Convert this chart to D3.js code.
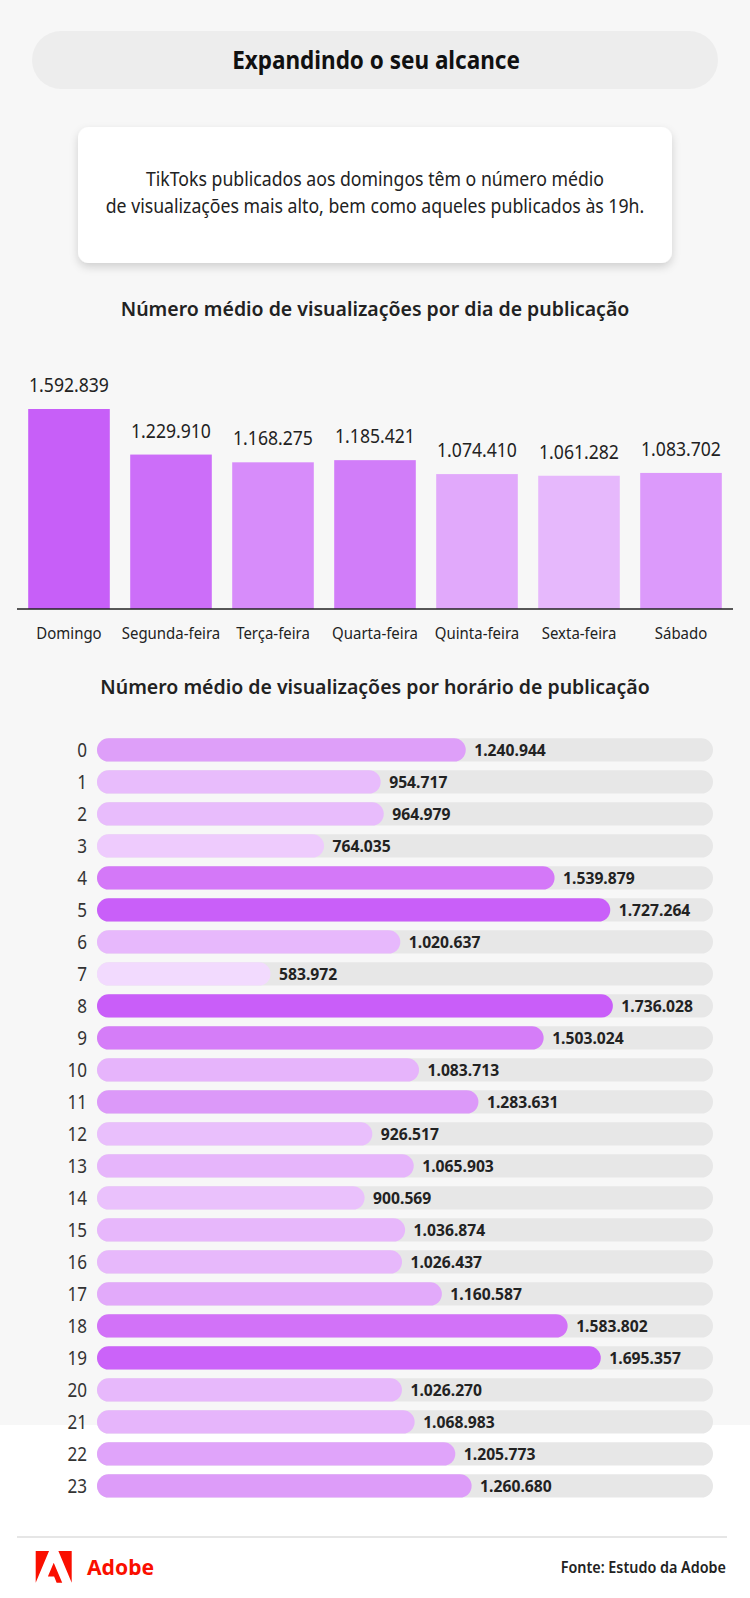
<!DOCTYPE html>
<html>
<head>
<meta charset="utf-8">
<script src="https://cdn.jsdelivr.net/npm/d3@7"></script>
<style>
  html, body { margin: 0; padding: 0; background: #ffffff; }
  svg { display: block; }
  text { font-family: "Noto Sans", "Open Sans", sans-serif; }
</style>
</head>
<body>
<svg id="chart" width="750" height="1598"></svg>
<script>
// ---------- DATA ----------
const title = "Expandindo o seu alcance";
const subtitleLines = [
  "TikToks publicados aos domingos têm o número médio",
  "de visualizações mais alto, bem como aqueles publicados às 19h."
];
const dayTitle = "Número médio de visualizações por dia de publicação";
const hourTitle = "Número médio de visualizações por horário de publicação";
const days = ["Domingo", "Segunda-feira", "Terça-feira", "Quarta-feira", "Quinta-feira", "Sexta-feira", "Sábado"];
const dayViews = [1592839, 1229910, 1168275, 1185421, 1074410, 1061282, 1083702];
const hours = ["0","1","2","3","4","5","6","7","8","9","10","11","12","13","14","15","16","17","18","19","20","21","22","23"];
const hourViews = [1240944, 954717, 964979, 764035, 1539879, 1727264, 1020637, 583972, 1736028, 1503024,
  1083713, 1283631, 926517, 1065903, 900569, 1036874, 1026437, 1160587, 1583802, 1695357,
  1026270, 1068983, 1205773, 1260680];
const hourAxisMax = 2073000;
const sourceText = "Fonte: Estudo da Adobe";
const brandText = "Adobe";

// ---------- HELPERS ----------
const ptBR = d3.formatLocale({ decimal: ",", thousands: ".", grouping: [3], currency: ["R$", ""] });
const fmt = ptBR.format(",d");
function squeeze(sel, k) {
  sel.each(function () {
    const w = this.getComputedTextLength();
    this.setAttribute("textLength", (w * k).toFixed(2));
    this.setAttribute("lengthAdjust", "spacingAndGlyphs");
  });
}

const svg = d3.select("#chart");
const W = 750;

// backgrounds
svg.append("rect").attr("x", 0).attr("y", 0).attr("width", W).attr("height", 1598).attr("fill", "#ffffff");
svg.append("rect").attr("x", 0).attr("y", 0).attr("width", W).attr("height", 1425).attr("fill", "#f7f7f7");

// shadow filter
const defs = svg.append("defs");
const f = defs.append("filter").attr("id", "shadow").attr("x", "-10%").attr("y", "-20%").attr("width", "120%").attr("height", "150%");
f.append("feDropShadow").attr("dx", 0).attr("dy", 4).attr("stdDeviation", 4).attr("flood-color", "#000").attr("flood-opacity", 0.16);

// ---------- HEADER ----------
svg.append("rect").attr("x", 32).attr("y", 31).attr("width", 686).attr("height", 58).attr("rx", 29).attr("fill", "#ededed");
svg.append("text").attr("x", 376).attr("y", 69).attr("text-anchor", "middle")
  .attr("font-size", 25).attr("font-weight", 700).attr("fill", "#111").text(title)
  .call(squeeze, 0.9);

svg.append("rect").attr("x", 78).attr("y", 127).attr("width", 594).attr("height", 136).attr("rx", 11)
  .attr("fill", "#ffffff").attr("filter", "url(#shadow)");
svg.selectAll("text.sub").data(subtitleLines).join("text").attr("class", "sub")
  .attr("x", 375).attr("y", (d, i) => 185.7 + i * 27.6).attr("text-anchor", "middle")
  .attr("font-size", 19).attr("fill", "#222").text(d => d)
  .call(squeeze, 0.93);

// ---------- DAY CHART ----------
svg.append("text").attr("x", 375).attr("y", 316).attr("text-anchor", "middle")
  .attr("font-size", 20.5).attr("font-weight", 600).attr("fill", "#222").text(dayTitle)
  .call(squeeze, 0.95);

const xDay = d3.scaleBand().domain(days).range([18, 732]).paddingInner(0.2).paddingOuter(0.1);
const yDay = d3.scaleLinear().domain([0, d3.max(dayViews)]).range([609, 409]);
const dayRank = dayViews.map(v => dayViews.filter(o => o > v).length);
const dayColor = d3.scaleLinear().domain([0, days.length - 1]).range(["#c75ff8", "#e6b8fc"]).interpolate(d3.interpolateRgb);

const dayData = days.map((d, i) => ({ day: d, v: dayViews[i], rank: dayRank[i] }));
svg.selectAll("rect.day").data(dayData).join("rect").attr("class", "day")
  .attr("x", d => xDay(d.day)).attr("width", xDay.bandwidth())
  .attr("y", d => yDay(d.v)).attr("height", d => yDay(0) - yDay(d.v))
  .attr("fill", d => dayColor(d.rank));
svg.selectAll("text.dayval").data(dayData).join("text").attr("class", "dayval")
  .attr("x", d => xDay(d.day) + xDay.bandwidth() / 2).attr("y", d => yDay(d.v) - 17)
  .attr("text-anchor", "middle").attr("font-size", 20).attr("fill", "#222")
  .text(d => fmt(d.v)).call(squeeze, 0.88);

const xAxis = svg.append("g").attr("transform", "translate(0,609)")
  .call(d3.axisBottom(xDay).tickSize(0).tickPadding(0));
xAxis.select(".domain").attr("stroke", "#222").attr("stroke-width", 1.6).attr("d", "M17,0H733");
xAxis.selectAll("text").attr("y", 29.5).attr("dy", null).attr("font-size", 17).attr("fill", "#222")
  .attr("font-family", "Noto Sans").call(squeeze, 0.88);

// ---------- HOUR CHART ----------
svg.append("text").attr("x", 375).attr("y", 694).attr("text-anchor", "middle")
  .attr("font-size", 20.5).attr("font-weight", 600).attr("fill", "#222").text(hourTitle)
  .call(squeeze, 0.95);

const yHour = d3.scaleBand().domain(hours).range([733.95, 733.95 + hours.length * 32]).paddingInner(0.272).paddingOuter(0.136);
const xHour = d3.scaleLinear().domain([0, hourAxisMax]).range([97, 713]);
const hourColor = d3.scaleLinear()
  .domain([583972, 764035, 960000, 1090000, 1260000, 1540000, 1736028])
  .range(["#f2dafe", "#eecbfd", "#e8bcfc", "#e6b4fb", "#dd9cf9", "#d478f8", "#c95ef9"])
  .clamp(true);
const hourData = hours.map((h, i) => ({ h, v: hourViews[i] }));
const bh = yHour.bandwidth();

svg.selectAll("rect.track").data(hourData).join("rect").attr("class", "track")
  .attr("x", xHour(0)).attr("width", xHour(hourAxisMax) - xHour(0))
  .attr("y", d => yHour(d.h)).attr("height", bh).attr("rx", bh / 2).attr("fill", "#e7e7e7");
svg.selectAll("rect.hour").data(hourData).join("rect").attr("class", "hour")
  .attr("x", xHour(0)).attr("width", d => xHour(d.v) - xHour(0))
  .attr("y", d => yHour(d.h)).attr("height", bh).attr("rx", bh / 2).attr("fill", d => hourColor(d.v));
svg.selectAll("text.hourval").data(hourData).join("text").attr("class", "hourval")
  .attr("x", d => xHour(d.v) + 8.5).attr("y", d => yHour(d.h) + bh / 2 + 6)
  .attr("font-size", 16.5).attr("font-weight", 700).attr("fill", "#222")
  .text(d => fmt(d.v)).call(squeeze, 0.95);

const yAxis = svg.append("g").attr("transform", "translate(87,0)")
  .call(d3.axisLeft(yHour).tickSize(0).tickPadding(0));
yAxis.select(".domain").remove();
yAxis.selectAll("text").attr("x", 0).attr("dy", "0.35em").attr("font-size", 19).attr("fill", "#333")
  .attr("font-family", "Noto Sans").call(squeeze, 0.9);

// ---------- FOOTER ----------
svg.append("line").attr("x1", 17).attr("x2", 727).attr("y1", 1537).attr("y2", 1537)
  .attr("stroke", "#e6e6e6").attr("stroke-width", 2);
svg.append("path")
  .attr("d", "M13.966 22.624l-1.69-4.281H8.122l3.892-9.144 5.662 13.425zM8.884 1.376H0v21.248zm15.116 0h-8.884L24 22.624Z")
  .attr("transform", "translate(35.7,1548.9) scale(1.5)").attr("fill", "#fa0f00");
svg.append("text").attr("x", 87).attr("y", 1575).attr("font-size", 22).attr("font-weight", 700)
  .attr("fill", "#fa0f00").text(brandText).call(squeeze, 0.96);
svg.append("text").attr("x", 726).attr("y", 1573).attr("text-anchor", "end").attr("font-size", 16.5)
  .attr("font-weight", 600).attr("fill", "#222").text(sourceText).call(squeeze, 0.87);
</script>
</body>
</html>
